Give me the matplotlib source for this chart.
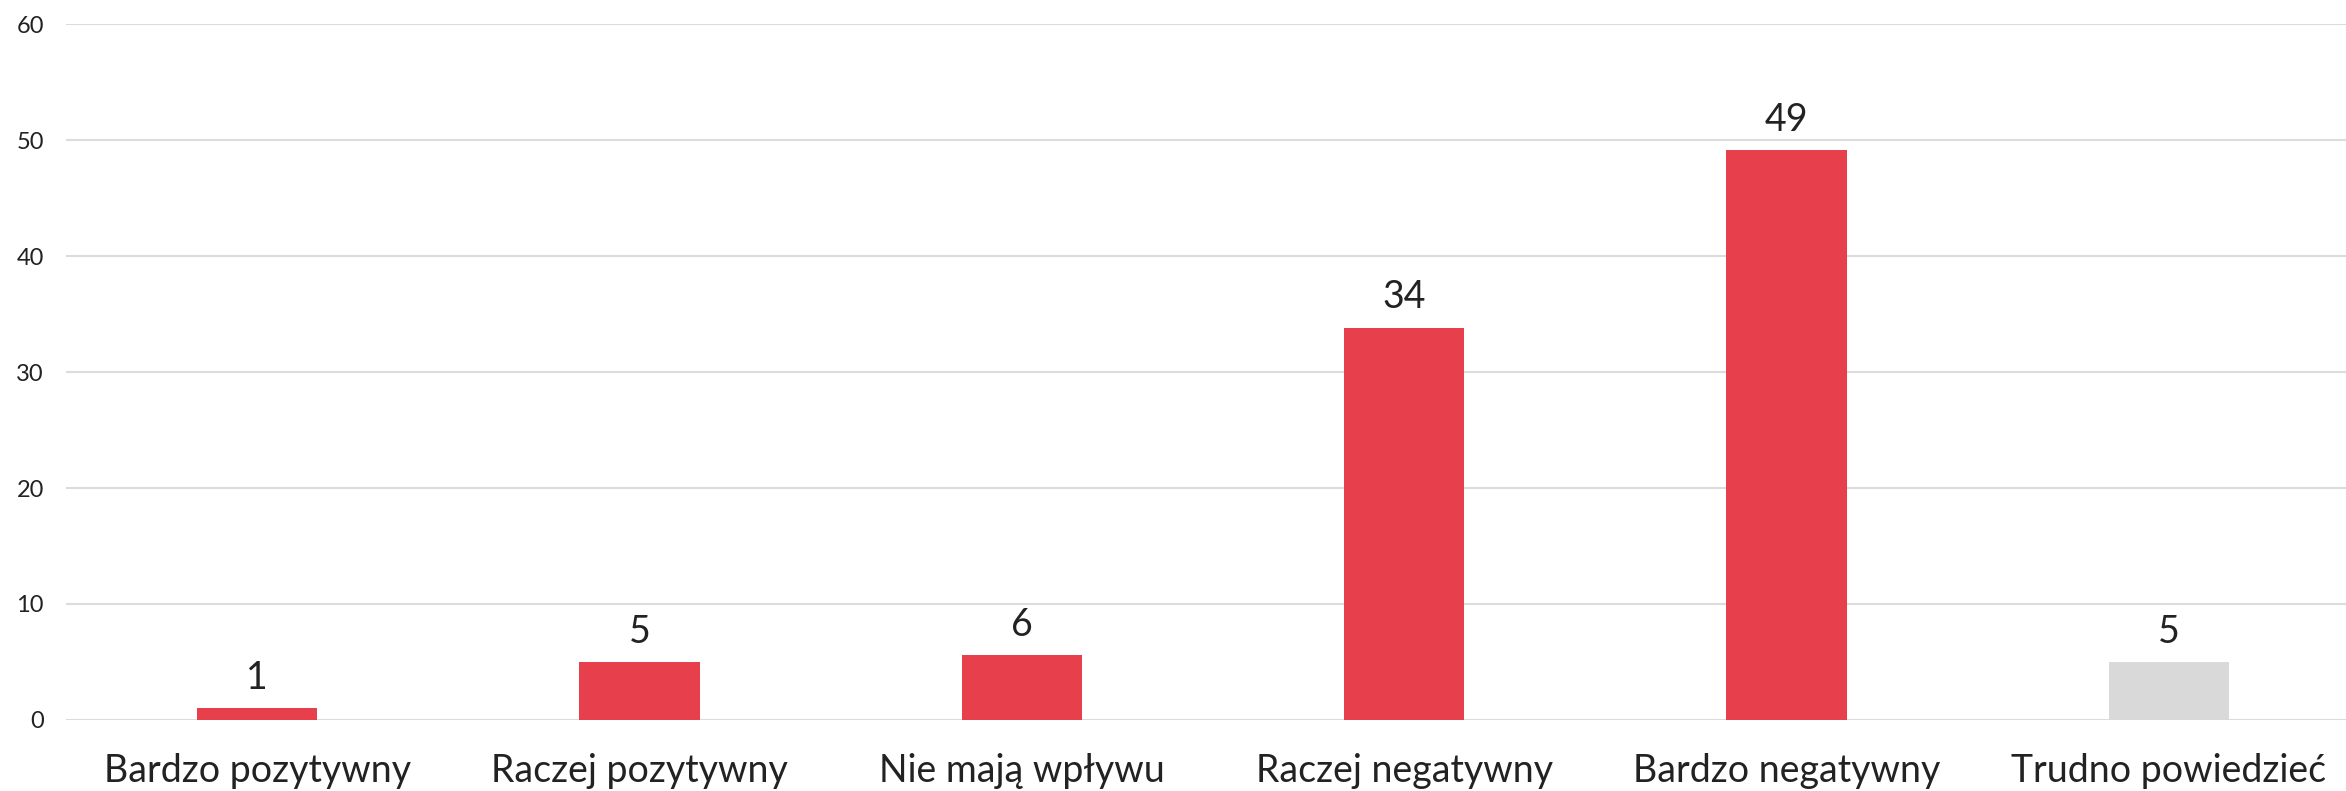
import matplotlib.pyplot as plt

plt.rcParams['font.family'] = ['Lato', 'DejaVu Sans']

categories = ['Bardzo pozytywny', 'Raczej pozytywny', 'Nie mają wpływu',
              'Raczej negatywny', 'Bardzo negatywny', 'Trudno powiedzieć']
values = [1.0, 5.0, 5.6, 33.8, 49.1, 5.0]
colors = ['#E83F4C'] * 5 + ['#D9D9D9']

fig = plt.figure(figsize=(23.46, 7.91), dpi=100)
ax = fig.add_axes([66 / 2346, 1 - 720 / 791, (2360 - 66) / 2346, (720 - 24) / 791])

x = range(len(categories))
bars = ax.bar(x, values, width=0.314, color=colors, zorder=3)

for b, v in zip(bars, values):
    ax.annotate(f'{v:.0f}', (b.get_x() + b.get_width() / 2, v),
                xytext=(0, 14), textcoords='offset points',
                ha='center', va='baseline', fontsize=27, color='#222222')

ax.set_xlim(-0.5, len(categories) - 0.5)
ax.set_ylim(0, 60)
ax.set_yticks(range(0, 61, 10))
ax.set_xticks(list(x))
ax.set_xticklabels(categories, fontsize=27, color='#222222')
ax.tick_params(axis='y', labelsize=17, labelcolor='#222222', length=0, pad=16)
ax.tick_params(axis='x', length=0, pad=24)

ax.grid(axis='y', color='#DCDCDC', linewidth=1.5, zorder=0)
for s in ax.spines.values():
    s.set_visible(False)

fig.savefig('out.png', dpi=100)
